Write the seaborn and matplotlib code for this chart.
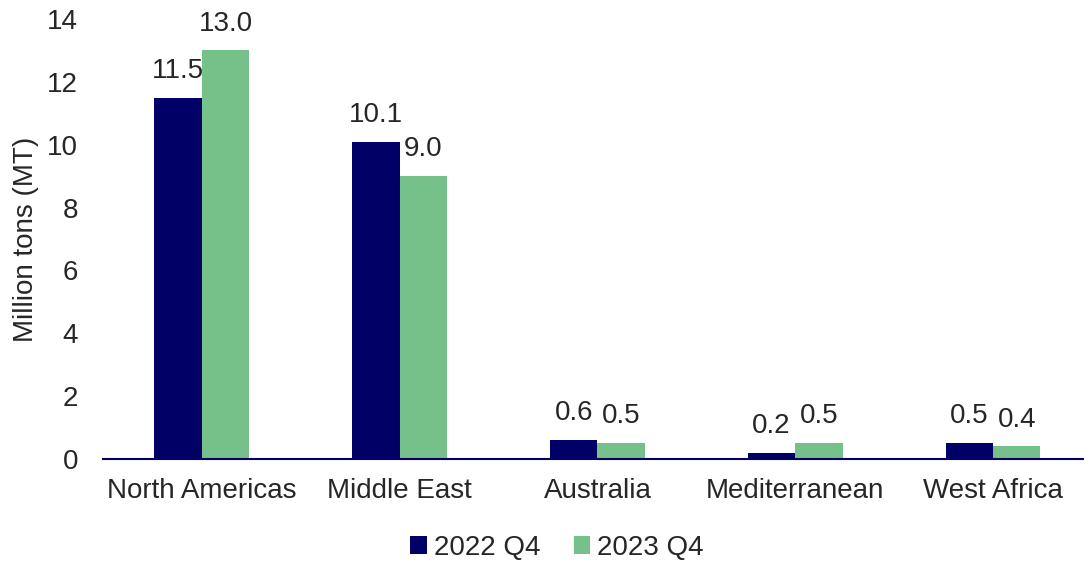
import matplotlib
matplotlib.use("Agg")
import matplotlib.pyplot as plt
import seaborn as sns
import pandas as pd

regions = ["North Americas", "Middle East", "Australia", "Mediterranean", "West Africa"]
q4_2022 = [11.5, 10.1, 0.6, 0.2, 0.5]
q4_2023 = [13.0, 9.0, 0.5, 0.5, 0.4]
series = ["2022 Q4", "2023 Q4"]
colors = ["#000066", "#76C08A"]

df = pd.DataFrame({
    "Region": regions * 2,
    "Value": q4_2022 + q4_2023,
    "Series": [series[0]] * len(regions) + [series[1]] * len(regions),
})

sns.set_style("white")
plt.rcParams["font.family"] = ["Liberation Sans", "DejaVu Sans"]

FS = 20
W, H = 1084, 561
fig = plt.figure(figsize=(W / 100, H / 100), dpi=100)
ax = fig.add_axes([103 / W, (H - 459) / H, (1084 - 103) / W, 440 / H])

sns.barplot(data=df, x="Region", y="Value", hue="Series", palette=colors,
            width=0.48, saturation=1, linewidth=0, ax=ax, legend=True)

for cont in ax.containers:
    ax.bar_label(cont, fmt="%.1f", padding=10, fontsize=FS)

ax.set_ylim(0, 14)
ax.set_yticks(range(0, 15, 2))
ax.set_xlim(-0.5, 4.46)
ax.set_xlabel("")
ax.set_ylabel("Million tons (MT)", fontsize=FS, labelpad=6)
ax.tick_params(axis="both", labelsize=FS, length=0)
ax.tick_params(axis="x", pad=14)
ax.tick_params(axis="y", pad=18)

for side in ["left", "right", "top"]:
    ax.spines[side].set_visible(False)
ax.spines["bottom"].set_color("#000066")
ax.spines["bottom"].set_linewidth(1.5)

handles, labels = ax.get_legend_handles_labels()
ax.get_legend().remove()
fig.legend(handles, labels, loc="center", bbox_to_anchor=(557 / W, 1 - 548 / H),
           ncol=2, frameon=False, fontsize=FS, handlelength=0.6, handleheight=0.6,
           handletextpad=0.25, columnspacing=1.2)

fig.savefig("out.png", dpi=100)
